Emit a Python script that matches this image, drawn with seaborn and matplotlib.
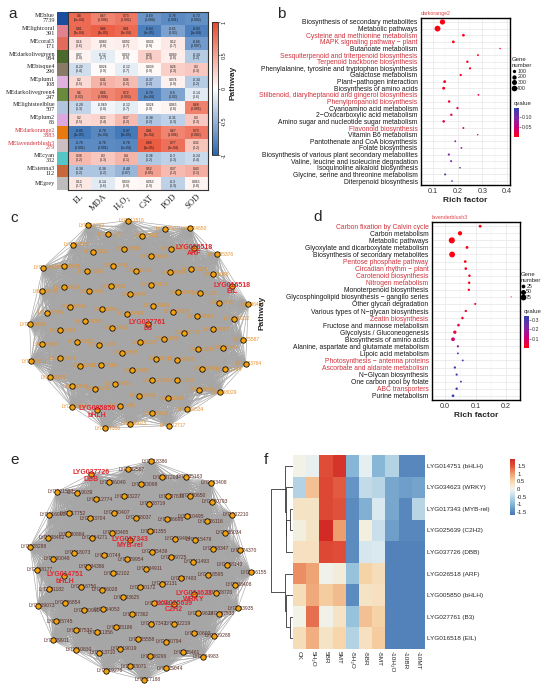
import numpy as np
import pandas as pd
import matplotlib
matplotlib.use("Agg")
import matplotlib.pyplot as plt
import seaborn as sns
from matplotlib.colors import LinearSegmentedColormap, ListedColormap
from matplotlib.collections import LineCollection
from matplotlib.lines import Line2D

sns.set_style("white")
plt.rcParams['font.family'] = ['Liberation Sans', 'DejaVu Sans']

# ---------------- data: panel a (module-trait correlations)
modules = ["MEblue", "MElightcoral", "MEcoral3", "MEdarkolivegreen", "MEbisque4", "MEplum1",
           "MEdarkolivegreen4", "MElightsteelblue", "MEplum2", "MEdarkorange2",
           "MElavenderblush3", "MEcyan", "MEsienna3", "MEgrey"]
module_sizes = ["7739", "391", "171", "984", "296", "108", "247", "507", "86", "3883",
                "279", "332", "112", ""]
module_colors = ["#1b4d9e", "#e3828f", "#e46b5b", "#4c6a2c", "#8a7b69", "#e0b0de",
                 "#6a8a3c", "#b2c4de", "#dea8de", "#e87a10", "#cbbfc3", "#55c6c6",
                 "#c8683a", "#bdbdbd"]
traits = ["EL", "MDA", "H₂O₂", "CAT", "POD", "SOD"]
corr = [[0.80, 0.67, 0.73, -0.69, -0.76, -0.73],
        [0.81, 0.86, 0.81, -0.84, -0.61, -0.83],
        [0.16, 0.083, 0.092, 0.036, 0.12, -0.66],
        [0.07, -0.12, 0.029, 0.26, 0.089, -0.34],
        [-0.22, 0.024, -0.12, 0.039, 0.26, 0.30],
        [0.20, 0.41, 0.36, -0.37, 0.074, -0.34],
        [0.60, 0.66, 0.72, -0.78, -0.60, -0.14],
        [-0.28, -0.069, -0.12, 0.024, 0.065, 0.68],
        [0.20, 0.22, 0.37, -0.38, -0.31, 0.30],
        [-0.86, -0.78, -0.87, 0.81, 0.67, 0.73],
        [-0.76, -0.76, -0.78, 0.88, 0.77, 0.32],
        [0.38, 0.30, 0.40, -0.36, -0.30, -0.24],
        [-0.38, -0.38, -0.48, 0.52, 0.37, 0.43],
        [0.12, -0.14, 0.039, 0.053, -0.30, 0.065]]
pvals = [["5e-04", "0.006", "0.002", "0.004", "0.001", "0.002"],
         ["3e-04", "4e-05", "3e-04", "8e-05", "0.02", "1e-04"],
         ["0.6", "0.8", "0.7", "0.9", "0.7", "0.007"],
         ["0.8", "0.7", "0.9", "0.3", "0.8", "0.2"],
         ["0.4", "0.9", "0.7", "0.9", "0.3", "0.3"],
         ["0.5", "0.1", "0.2", "0.2", "0.8", "0.2"],
         ["0.02", "0.008", "0.003", "6e-04", "0.02", "0.6"],
         ["0.3", "0.8", "0.7", "0.9", "0.8", "0.005"],
         ["0.5", "0.4", "0.2", "0.2", "0.3", "0.3"],
         ["4e-05", "6e-04", "3e-05", "3e-04", "0.006", "0.002"],
         ["0.001", "0.001", "6e-04", "1e-05", "8e-04", "0.2"],
         ["0.2", "0.3", "0.1", "0.2", "0.3", "0.4"],
         ["0.2", "0.2", "0.07", "0.05", "0.2", "0.1"],
         ["0.7", "0.6", "0.9", "0.9", "0.3", "0.8"]]
key_modules = ["MEdarkorange2", "MElavenderblush3"]

# ---------------- data: panel b (darkorange2 KEGG)
b_pathways = ["Biosynthesis of secondary metabolites", "Metabolic pathways",
              "Cysteine and methionine metabolism", "MAPK signaling pathway − plant",
              "Butanoate metabolism", "Sesquiterpenoid and triterpenoid biosynthesis",
              "Terpenoid backbone biosynthesis",
              "Phenylalanine, tyrosine and tryptophan biosynthesis", "Galactose metabolism",
              "Plant−pathogen interaction", "Biosynthesis of amino acids",
              "Stilbenoid, diarylheptanoid and gingerol biosynthesis",
              "Phenylpropanoid biosynthesis", "Cyanoamino acid metabolism",
              "2−Oxocarboxylic acid metabolism", "Amino sugar and nucleotide sugar metabolism",
              "Flavonoid biosynthesis", "Vitamin B6 metabolism",
              "Pantothenate and CoA biosynthesis", "Folate biosynthesis",
              "Biosynthesis of various plant secondary metabolites",
              "Valine, leucine and isoleucine degradation",
              "Isoquinoline alkaloid biosynthesis", "Glycine, serine and threonine metabolism",
              "Diterpenoid biosynthesis"]
b_rich = [0.138, 0.118, 0.223, 0.182, 0.372, 0.282, 0.239, 0.25, 0.212, 0.147, 0.143, 0.284,
          0.165, 0.199, 0.174, 0.143, 0.223, 0.281, 0.19, 0.215, 0.164, 0.173, 0.209, 0.149,
          0.177]
b_genes = [330, 430, 60, 60, 12, 22, 40, 30, 35, 65, 70, 18, 45, 35, 38, 50, 22, 12, 20, 18,
           30, 25, 15, 25, 16]
b_q = [0.0, 0.0, 0.002, 0.004, 0.008, 0.01, 0.01, 0.012, 0.014, 0.01, 0.008, 0.02, 0.015,
       0.02, 0.022, 0.024, 0.045, 0.06, 0.085, 0.075, 0.09, 0.105, 0.12, 0.14, 0.145]
b_red = ["Cysteine and methionine metabolism", "MAPK signaling pathway − plant",
         "Sesquiterpenoid and triterpenoid biosynthesis", "Terpenoid backbone biosynthesis",
         "Stilbenoid, diarylheptanoid and gingerol biosynthesis",
         "Phenylpropanoid biosynthesis", "Flavonoid biosynthesis"]

# ---------------- data: panel d (lavenderblush3 KEGG)
d_pathways = ["Carbon fixation by Calvin cycle", "Carbon metabolism", "Metabolic pathways",
              "Glyoxylate and dicarboxylate metabolism",
              "Biosynthesis of secondary metabolites", "Pentose phosphate pathway",
              "Circadian rhythm − plant", "Carotenoid biosynthesis", "Nitrogen metabolism",
              "Monoterpenoid biosynthesis", "Glycosphingolipid biosynthesis − ganglio series",
              "Other glycan degradation", "Various types of N−glycan biosynthesis",
              "Zeatin biosynthesis", "Fructose and mannose metabolism",
              "Glycolysis / Gluconeogenesis", "Biosynthesis of amino acids",
              "Alanine, aspartate and glutamate metabolism", "Lipoic acid metabolism",
              "Photosynthesis − antenna proteins", "Ascorbate and aldarate metabolism",
              "N−Glycan biosynthesis", "One carbon pool by folate", "ABC transporters",
              "Purine metabolism"]
d_rich = [0.115, 0.049, 0.022, 0.072, 0.023, 0.066, 0.068, 0.08, 0.079, 0.078, 0.217, 0.099,
          0.068, 0.057, 0.044, 0.032, 0.026, 0.042, 0.042, 0.058, 0.032, 0.038, 0.052, 0.038,
          0.026]
d_genes = [12, 35, 85, 12, 75, 10, 10, 8, 8, 7, 2, 5, 7, 9, 10, 18, 25, 6, 4, 4, 7, 6, 4, 8, 10]
d_q = [0.0, 0.0, 0.0, 0.005, 0.0, 0.01, 0.012, 0.012, 0.015, 0.02, 0.03, 0.025, 0.03, 0.04,
       0.06, 0.05, 0.09, 0.2, 0.27, 0.3, 0.3, 0.3, 0.31, 0.32, 0.33]
d_red = ["Carbon fixation by Calvin cycle", "Pentose phosphate pathway",
         "Circadian rhythm − plant", "Carotenoid biosynthesis", "Nitrogen metabolism",
         "Zeatin biosynthesis", "Photosynthesis − antenna proteins",
         "Ascorbate and aldarate metabolism", "ABC transporters"]

# ---------------- data: panels c / e (co-expression networks)
c_genes = ["LYG020489", "LYG037225", "LYG035489", "LYG013802", "LYG011860", "LYG038071",
           "LYG038565", "LYG010376", "LYG031964", "LYG037786", "LYG020175", "LYG031219",
           "LYG030772", "LYG036860", "LYG020030", "LYG002920", "LYG024750", "LYG036893",
           "LYG032120", "LYG037118", "LYG008884", "LYG016092", "LYG017370", "LYG036094",
           "LYG036957", "LYG013249", "LYG023415", "LYG034851", "LYG010105", "LYG036544",
           "LYG031878", "LYG019965", "LYG032893", "LYG039697", "LYG011078", "LYG026936",
           "LYG023296", "LYG032304", "LYG006862", "LYG015916", "LYG009373", "LYG010007",
           "LYG020938", "LYG031661", "LYG018873", "LYG002244", "LYG030464", "LYG038281",
           "LYG021988", "LYG005098", "LYG022336", "LYG008020", "LYG003911", "LYG032553",
           "LYG030212", "LYG036038", "LYG006822", "LYG023244", "LYG021294", "LYG031871",
           "LYG037736", "LYG006534", "LYG035011", "LYG032861", "LYG025587", "LYG012337",
           "LYG038025", "LYG035376", "LYG020189", "LYG008029", "LYG011516", "LYG013906",
           "LYG036485", "LYG034427", "LYG002717", "LYG024650", "LYG019011", "LYG033764",
           "LYG015702", "LYG027350"]
c_hubs = ["LYG027761", "LYG026518", "LYG005850", "LYG016518"]
c_hub_tf = ["B3", "ARF", "bHLH", "EIL"]
c_hub_rank = [0, 58, 62, 63]

e_genes = ["LYG034911", "LYG029954", "LYG030172", "LYG035439", "LYG032102", "LYG032131",
           "LYG033625", "LYG039725", "LYG010744", "LYG028243", "LYG031355", "LYG026028",
           "LYG037483", "LYG033485", "LYG037362", "LYG019404", "LYG034386", "LYG038037",
           "LYG004053", "LYG011493", "LYG004271", "LYG017342", "LYG036698", "LYG016756",
           "LYG030407", "LYG005186", "LYG015479", "LYG018073", "LYG032219", "LYG028719",
           "LYG030910", "LYG018595", "LYG023704", "LYG005558", "LYG010495", "LYG019624",
           "LYG033227", "LYG011356", "LYG008347", "LYG030884", "LYG030794", "LYG037835",
           "LYG026854", "LYG028720", "LYG012774", "LYG019019", "LYG026116", "LYG030048",
           "LYG010603", "LYG033098", "LYG037537", "LYG028143", "LYG017752", "LYG038296",
           "LYG020650", "LYG031182", "LYG037533", "LYG006040", "LYG013710", "LYG036034",
           "LYG038462", "LYG035461", "LYG037200", "LYG005745", "LYG038408", "LYG019039",
           "LYG033071", "LYG020793", "LYG008177", "LYG009288", "LYG032567", "LYG010830",
           "LYG024370", "LYG016003", "LYG025044", "LYG035163", "LYG009073", "LYG033935",
           "LYG019276", "LYG002210", "LYG028298", "LYG004983", "LYG018386", "LYG029911",
           "LYG006155", "LYG021507", "LYG017188", "LYG003408"]
e_hubs = ["LYG017343", "LYG025639", "LYG034623", "LYG014751", "LYG037726"]
e_hub_tf = ["MYB-rel", "C2H2", "WRKY", "bHLH", "DBB"]
e_hub_rank = [6, 18, 26, 38, 82]

# ---------------- data: panel f (TF expression heatmap)
f_genes = ["LYG014751 (bHLH)", "LYG034623 (WRKY)", "LYG017343 (MYB-rel)", "LYG025639 (C2H2)",
           "LYG037726 (DBB)", "LYG026518 (ARF)", "LYG005850 (bHLH)", "LYG027761 (B3)",
           "LYG016518 (EIL)"]
f_samples = ["CK", "5H₂O", "5BR", "5MT", "-5H₂O", "-5BR", "-5MT", "-10H₂O", "-10BR", "-10MT"]
f_vals = [[0.05, -0.1, 1.55, 1.85, -1.0, -0.15, -1.0, -0.6, -1.5, -1.5],
          [-0.6, 0.7, 1.6, 1.45, -1.35, -0.45, -0.55, -1.15, -1.25, -1.2],
          [0.3, 0.3, 1.6, 1.5, -1.45, -1.05, -0.25, -1.15, -1.5, -0.55],
          [0.1, 0.3, 1.95, 1.0, -1.45, 0.1, -0.4, -1.25, -1.5, -1.5],
          [0.35, 0.35, 1.6, 1.55, -1.45, -0.3, -0.25, -1.55, -1.55, -1.55],
          [1.1, 0.95, 0.0, 0.15, -0.85, 0.55, 0.4, -1.55, -1.55, -1.55],
          [0.4, 0.9, 0.6, 0.75, -1.45, 0.3, 0.35, -1.55, -1.55, -1.55],
          [0.05, 1.3, 0.0, 0.3, -0.85, 0.7, 0.55, -1.55, -1.55, -1.55],
          [0.4, 0.85, 0.3, 0.5, -0.6, 0.35, 0.6, -1.55, -1.55, -1.55]]
# row dendrogram: [merge height, left, right]
f_tree = [1.0, [0.38, 0, [0.34, 1, [0.31, [0.14, 2, 3], 4]]],
          [0.38, 5, [0.31, 6, [0.14, 7, 8]]]]

# ---------------- figure helpers
W, H = 550, 698
fig = plt.figure(figsize=(W / 100, H / 100), dpi=100)


def box(l, t, r, b):
    return fig.add_axes([l / W, 1 - b / H, (r - l) / W, (b - t) / H])


def dot_area(v, vmin, vmax, dmin, dmax):
    x = np.clip((np.asarray(v, float) - vmin) / (vmax - vmin), 0, 1)
    return (dmin + (dmax - dmin) * np.sqrt(x)) ** 2


RED = "#d0323c"
q_cmap = LinearSegmentedColormap.from_list("q", ["#ff0010", "#c8007e", "#7a2aa6", "#3040b0"])

# ---------------- panel a
ax_side = box(57, 12, 68, 190)
side_lab = [m + ("\n" + s if s else "") for m, s in zip(modules, module_sizes)]
sns.heatmap(np.arange(len(modules)).reshape(-1, 1), cmap=ListedColormap(module_colors),
            cbar=False, xticklabels=False, yticklabels=side_lab, ax=ax_side)
ax_side.tick_params(axis="y", length=0, pad=1.5)
for t in ax_side.get_yticklabels():
    t.set_fontfamily(["Liberation Serif", "DejaVu Serif"])
    t.set_fontsize(4.4)
    t.set_rotation(0)
    t.set_multialignment("right")
    t.set_linespacing(0.95)
    if t.get_text().split("\n")[0] in key_modules:
        t.set_color(RED)

ax_a = box(68, 12, 208, 190)
cax_a = box(212, 22, 218, 155)
corr_df = pd.DataFrame(corr, index=modules, columns=traits)
annot = [[f"{r:.2g}\n({p})" for r, p in zip(rr, pp)] for rr, pp in zip(corr, pvals)]
cmap_a = LinearSegmentedColormap.from_list("bwr", ["#2a67b0", "#ffffff", "#e8472a"])
sns.heatmap(corr_df, cmap=cmap_a, vmin=-1, vmax=1, annot=np.array(annot), fmt="",
            annot_kws={"size": 2.4, "color": "#1a1a1a", "linespacing": 1.0},
            yticklabels=False, cbar_ax=cax_a, ax=ax_a)
for sp in ax_a.spines.values():
    sp.set_visible(True)
    sp.set_linewidth(0.8)
    sp.set_color("#333333")
ax_a.set_xticklabels(traits, rotation=45, ha="right", rotation_mode="anchor",
                     fontsize=6.2, family=["Liberation Serif", "DejaVu Serif"])
ax_a.tick_params(axis="x", length=0, pad=2)
cb = ax_a.collections[0].colorbar
cb.set_ticks([-1, -0.5, 0, 0.5, 1])
cb.set_ticklabels(["-1", "-0.5", "0", "0.5", "1"])
cb.ax.tick_params(labelsize=4, length=1.5, width=0.4, pad=1)
for t in cb.ax.get_yticklabels():
    t.set_rotation(90)
    t.set_va("center")
cb.outline.set_linewidth(0.6)
cb.outline.set_edgecolor("#222222")
cb.outline.set_visible(True)


# ---------------- panels b / d
def enrich_panel(rect, paths, rich, genes, q, reds, title, xlim, xticks, xminor,
                 qmax, gvmin, gvmax, dmax, leg_vals, leg_pos, cb_rect, qticks, qlabels,
                 ylab_pos):
    ax = box(*rect)
    df = pd.DataFrame({"pathway": paths, "rich": rich, "genes": genes, "q": q})
    df["row"] = np.arange(len(df))
    df["area"] = dot_area(df["genes"], gvmin, gvmax, 0.8, dmax)
    amin, amax = df["area"].min(), df["area"].max()
    sns.scatterplot(data=df, x="rich", y="row", hue="q", palette=q_cmap, hue_norm=(0, qmax),
                    size="area", sizes=(amin, amax), size_norm=(amin, amax),
                    edgecolor="none", linewidth=0, legend=False, ax=ax, zorder=3)
    ax.set_xlim(*xlim)
    ax.set_ylim(len(df) - 0.4, -0.6)
    ax.set_yticks(df["row"])
    ax.set_yticklabels(paths, fontsize=4.9)
    ax.set_xticks(xticks)
    ax.set_xticks(xminor, minor=True)
    ax.set_xticklabels([f"{v:.1f}" for v in xticks], fontsize=5.2, color="#333333")
    ax.grid(which="major", color="#e6e6e6", lw=0.5)
    ax.grid(which="minor", axis="x", color="#f2f2f2", lw=0.35)
    ax.set_axisbelow(True)
    ax.tick_params(axis="both", which="major", length=1.5, width=0.4, pad=1, colors="#333333")
    ax.tick_params(axis="x", which="minor", length=0)
    for t in ax.get_yticklabels():
        t.set_color(RED if t.get_text() in reds else "#1a1a1a")
    for sp in ax.spines.values():
        sp.set_visible(True)
        sp.set_linewidth(1.0)
        sp.set_color("black")
    ax.set_xlabel("Rich factor", fontsize=6, fontweight="bold", labelpad=1)
    ax.set_ylabel("")
    ax.set_title(title, fontsize=3.8, color="#e04545", loc="left", pad=2)
    fig.text(ylab_pos[0] / W, 1 - ylab_pos[1] / H, "Pathway", rotation=90, fontsize=6,
             fontweight="bold", ha="center", va="center")
    # legends
    handles = [Line2D([], [], marker="o", ls="", color="black", markeredgewidth=0,
                      markersize=float(np.sqrt(dot_area(v, gvmin, gvmax, 0.8, dmax))))
               for v in leg_vals]
    lg = fig.legend(handles, [str(v) for v in leg_vals], title="Gene\nnumber", loc="upper left",
                    bbox_to_anchor=(leg_pos[0] / W, 1 - leg_pos[1] / H), frameon=False,
                    fontsize=3.8, title_fontsize=4.3, handletextpad=0.2, labelspacing=0.15,
                    borderpad=0, borderaxespad=0, handlelength=0.8)
    lg._legend_box.align = "left"
    qax = box(*cb_rect)
    sm = plt.cm.ScalarMappable(cmap=q_cmap, norm=plt.Normalize(0, qmax))
    qcb = fig.colorbar(sm, cax=qax, ticks=qticks)
    qcb.outline.set_visible(False)
    qcb.ax.tick_params(labelsize=3.8, length=1.2, width=0.4, pad=1, colors="#333333")
    qcb.ax.set_yticklabels(qlabels)
    fig.text(cb_rect[0] / W, 1 - (cb_rect[1] - 2) / H, "qvalue", fontsize=4.3, va="bottom")
    return ax


enrich_panel((421, 18, 510, 185), b_pathways, b_rich, b_genes, b_q, b_red, "darkorange2",
             (0.051, 0.412), [0.1, 0.2, 0.3, 0.4], [0.15, 0.25, 0.35], 0.148, 10, 430, 4.2,
             [100, 200, 300, 400], (512, 57), (514, 108, 519, 137), [0.05, 0.10],
             ["0.05", "0.10"], (233, 83))
enrich_panel((432, 222, 520, 400), d_pathways, d_rich, d_genes, d_q, d_red, "lavenderblush3",
             (-0.043, 0.246), [0.0, 0.1, 0.2], [0.05, 0.15], 0.342, 2, 85, 4.4,
             [25, 50, 75], (521, 272), (524, 316, 529, 348), [0.1, 0.2, 0.3],
             ["0.1", "0.2", "0.3"], (262, 313))


# ---------------- panels c / e
def network(rect, genes, hubs, hub_tf, hub_rank, label_color):
    ax = box(*rect)
    nodes = list(genes)
    for r, g in sorted(zip(hub_rank, hubs)):
        nodes.insert(r, g)
    n = len(nodes)
    k = np.arange(n)
    rad = np.sqrt((k + 0.5) / n)
    th = 2 * np.pi * ((k * 0.381966) % 1)
    pos = pd.DataFrame({"gene": nodes, "x": rad * np.cos(th), "y": rad * np.sin(th)})
    xy = pos[["x", "y"]].to_numpy()
    segs = [[xy[i], xy[j]] for i in range(n) for j in range(i + 1, n)]
    ax.add_collection(LineCollection(segs, colors="#a6a6a6", linewidths=0.45, zorder=1))
    sns.scatterplot(data=pos, x="x", y="y", s=15, color="#f3a10c", edgecolor="black",
                    linewidth=0.55, legend=False, ax=ax, zorder=4)
    tf = dict(zip(hubs, hub_tf))
    for g, x, y in zip(pos["gene"], pos["x"], pos["y"]):
        if g in tf:
            ax.text(x, y - 0.02, g + "\n" + tf[g], color="#e3262e", fontsize=5,
                    fontweight="bold", ha="center", va="center", zorder=5, linespacing=0.9)
        else:
            ax.text(x + 0.03, y, g, color=label_color, fontsize=3.6, ha="center", va="center",
                    zorder=3)
    ax.set_xlim(-1.08, 1.08)
    ax.set_ylim(-1.08, 1.08)
    ax.axis("off")
    return ax


network((12, 205, 265, 442), c_genes, c_hubs, c_hub_tf, c_hub_rank, "#e8912a")
network((14, 448, 262, 690), e_genes, e_hubs, e_hub_tf, e_hub_rank, "#5e2f25")

# ---------------- panel f
ax_f = box(293, 455, 425, 649)
fcax = box(510, 459, 515, 515)
f_cmap = LinearSegmentedColormap.from_list(
    "ryb", [(0.0, "#4575B4"), (0.22, "#91BFDB"), (0.42, "#E4EEF2"), (0.48, "#F3F2E6"),
            (0.6, "#F7D8AE"), (0.74, "#EE9E6E"), (0.88, "#E0503A"), (1.0, "#D32A25")])
f_df = pd.DataFrame(f_vals, index=f_genes, columns=f_samples)
sns.heatmap(f_df, cmap=f_cmap, vmin=-1.7, vmax=1.95, cbar_ax=fcax, ax=ax_f,
            xticklabels=f_samples, yticklabels=f_genes)
ax_f.tick_params(axis="y", left=False, right=True, labelleft=False, labelright=True,
                 length=0, pad=1.5, labelsize=4.6)
for t in ax_f.get_yticklabels():
    t.set_rotation(0)
ax_f.tick_params(axis="x", length=0, pad=1.5, labelsize=4.6)
for t in ax_f.get_xticklabels():
    t.set_rotation(-90)
    t.set_va("top")
    t.set_ha("center")
fcb = ax_f.collections[0].colorbar
fcb.set_ticks([-1.5, -1, -0.5, 0, 0.5, 1, 1.5])
fcb.set_ticklabels(["-1.5", "-1", "-0.5", "0", "0.5", "1", "1.5"])
fcb.outline.set_visible(False)
fcb.ax.tick_params(labelsize=4.2, length=0, pad=1.5)

ax_dend = box(271, 455, 293, 649)


def draw_tree(ax, node):
    if isinstance(node, int):
        return node + 0.5, 0.0
    h, left, right = node
    yl, hl = draw_tree(ax, left)
    yr, hr = draw_tree(ax, right)
    ax.plot([hl, h, h, hr], [yl, yl, yr, yr], color="#333333", lw=0.6,
            solid_capstyle="butt")
    return (yl + yr) / 2, h


draw_tree(ax_dend, f_tree)
ax_dend.set_xlim(1.02, 0)
ax_dend.set_ylim(len(f_genes), 0)
ax_dend.axis("off")

# ---------------- panel letters
for lab, (px, py) in {"a": (8, 14), "b": (277, 14), "c": (10, 218), "d": (313, 217),
                      "e": (10, 460), "f": (264, 460)}.items():
    fig.text(px / W, 1 - py / H, lab, fontsize=11, ha="left", va="center")

fig.savefig("out.png", dpi=100)
